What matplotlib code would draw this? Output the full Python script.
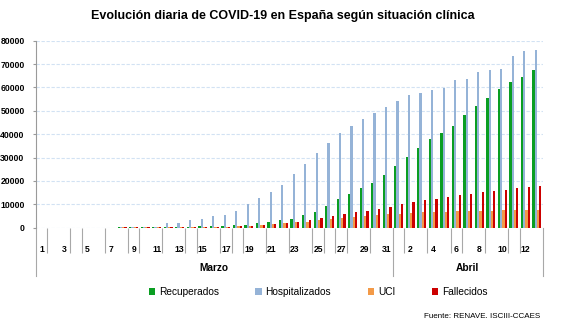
import matplotlib.pyplot as plt
import matplotlib.transforms as mtransforms
from matplotlib.patches import Patch
import numpy as np

# 1 de marzo .. 13 de abril
dias = list(range(1, 32)) + list(range(1, 14))

recuperados = [0, 0, 0, 0, 0, 0, 0, 300, 300, 300, 300, 300, 300, 300,
               520, 520, 560, 1000, 1300, 2000, 2420, 3280, 3700, 5420, 6700, 9270,
               12260, 14400, 16970, 19100, 22530,
               26520, 30230, 34220, 38070, 40360, 43350, 48060, 52000, 55600,
               59300, 62300, 64600, 67450]
hospitalizados = [0, 0, 0, 0, 0, 0, 0, 300, 350, 400, 450, 1850, 2140, 3280,
                  3600, 4990, 5420, 7130, 10120, 12690, 15260, 18250, 22960, 27240,
                  31940, 36220, 40500, 43490, 46490, 49050, 51620,
                  54190, 56750, 57600, 58900, 59750, 63170, 63600, 66600, 67450,
                  67900, 73580, 75580, 76000]
uci = [0, 0, 0, 0, 0, 0, 0, 300, 300, 300, 300, 300, 300, 300,
       300, 350, 400, 600, 900, 1140, 1570, 1800, 2420, 2600, 3280, 3700,
       4130, 4560, 4990, 5300, 5850,
       5850, 6270, 6700, 6700, 6700, 7130, 7130, 7130, 7130,
       7560, 7560, 7560, 7560]
fallecidos = [0, 0, 0, 0, 0, 0, 0, 300, 300, 300, 300, 300, 300, 300,
              300, 300, 500, 600, 710, 1140, 1570, 2000, 2420, 3280, 4130, 4990,
              5850, 6700, 7130, 7990, 8840,
              10120, 10980, 11840, 12260, 13120, 13830, 14400, 15260, 15690,
              16110, 16970, 17400, 17970]

meses = ['Marzo', 'Abril']
dias_mes = [31, 13]

series = [('Recuperados', recuperados, '#0a9e22'),
          ('Hospitalizados', hospitalizados, '#95b3d7'),
          ('UCI', uci, '#f39a48'),
          ('Fallecidos', fallecidos, '#cc0000')]

plt.rcParams['font.family'] = ['Liberation Sans', 'DejaVu Sans']

fig = plt.figure(figsize=(5.66, 3.25), dpi=100)
ax = fig.add_axes([35.7 / 566, 1 - 227.7 / 325, 507 / 566, 187 / 325])

n = len(dias)
x = np.arange(n) + 0.5
w = 0.195
for k, (nombre, vals, col) in enumerate(series):
    ax.bar(x + (k - 1.5) * w, vals, width=w, color=col, linewidth=0)

ax.set_xlim(0, n)
ax.set_ylim(0, 80000)
ax.set_yticks(range(0, 80001, 10000))
ax.yaxis.grid(True, color='#d2e2f3', linestyle=(0, (3, 1.5)), linewidth=0.8)
ax.set_axisbelow(True)
for s in ['top', 'right', 'bottom']:
    ax.spines[s].set_visible(False)
ax.spines['left'].set_color('#9a9a9a')
ax.tick_params(axis='y', length=2, color='#9a9a9a', labelsize=6.2, pad=6)
for t in ax.get_yticklabels():
    t.set_fontweight('bold')

ax.set_xticks(x[::2])
ax.set_xticklabels([str(d) for d in dias[::2]], fontsize=6.2, fontweight='bold')
ax.tick_params(axis='x', which='major', length=0, pad=12.5)
separadores = [1, 3, 4, 6, 8, 9, 11, 13, 14, 16, 17, 18, 20, 22, 24, 25, 26, 27,
               29, 32, 34, 36, 37, 39, 41, 42]
ax.set_xticks(separadores, minor=True)
ax.tick_params(axis='x', which='minor', length=18, width=0.8, color='#a8a8a8',
               direction='out')

trans = mtransforms.blended_transform_factory(ax.transData, ax.transAxes)
bordes = np.cumsum([0] + dias_mes)
for b in bordes:
    ax.plot([b, b], [0, -48.5 / 187], transform=trans, color='#a8a8a8',
            linewidth=0.8, clip_on=False)
for i, mes in enumerate(meses):
    ax.text((bordes[i] + bordes[i + 1]) / 2, -40.5 / 187, mes, transform=trans,
            ha='center', va='center', fontsize=7.3, fontweight='bold')

fig.text(0.5, 1 - 15.5 / 325, 'Evolución diaria de COVID-19 en España según situación clínica',
         ha='center', va='center', fontsize=9, fontweight='bold')

handles = [Patch(facecolor=c, edgecolor='none', label=nm) for nm, _, c in series]
fig.legend(handles=handles, loc='center', bbox_to_anchor=(318 / 566, 1 - 292 / 325),
           ncol=4, frameon=False, fontsize=7.3, handlelength=0.65, handleheight=0.65,
           handletextpad=0.35, columnspacing=3.6, borderpad=0)

fig.text(540 / 566, 1 - 317 / 325, 'Fuente: RENAVE. ISCIII-CCAES', ha='right',
         va='center', fontsize=5.8)

fig.savefig('out.png', dpi=100)
